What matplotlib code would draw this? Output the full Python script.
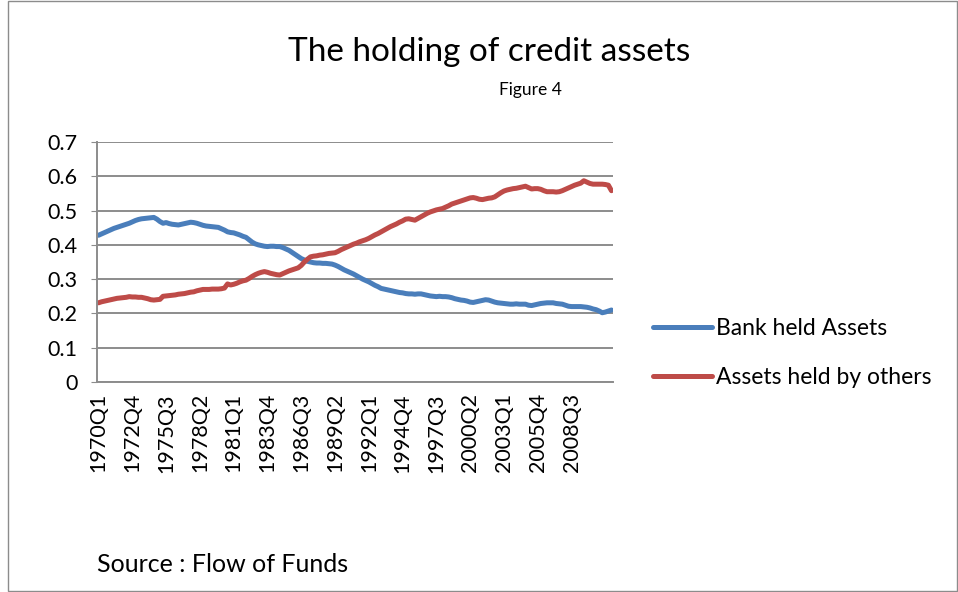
import numpy as np
import matplotlib.pyplot as plt
from matplotlib.patches import Rectangle

plt.rcParams['font.family'] = ['Lato', 'DejaVu Sans']

# quarterly shares, 1970Q1 .. 2011Q4 (one row per year)
bank_held = [
    0.428, 0.432, 0.436, 0.440,  # 1970
    0.444, 0.448, 0.451, 0.454,
    0.457, 0.460, 0.463, 0.467,
    0.471, 0.474, 0.476, 0.477,
    0.478, 0.479, 0.480, 0.475,
    0.468, 0.463, 0.465, 0.462,  # 1975
    0.460, 0.459, 0.458, 0.460,
    0.462, 0.464, 0.466, 0.465,
    0.463, 0.460, 0.457, 0.455,
    0.454, 0.453, 0.452, 0.451,
    0.447, 0.443, 0.438, 0.436,  # 1980
    0.435, 0.432, 0.429, 0.425,
    0.422, 0.415, 0.408, 0.403,
    0.400, 0.398, 0.396, 0.395,
    0.396, 0.396, 0.395, 0.395,
    0.392, 0.388, 0.384, 0.378,  # 1985
    0.372, 0.366, 0.360, 0.356,
    0.352, 0.350, 0.348, 0.347,
    0.347, 0.346, 0.346, 0.345,
    0.344, 0.341, 0.337, 0.332,
    0.327, 0.323, 0.319, 0.315,  # 1990
    0.310, 0.305, 0.300, 0.296,
    0.292, 0.287, 0.282, 0.278,
    0.273, 0.271, 0.269, 0.267,
    0.265, 0.263, 0.261, 0.260,
    0.258, 0.257, 0.257, 0.256,  # 1995
    0.257, 0.257, 0.255, 0.253,
    0.251, 0.250, 0.249, 0.250,
    0.249, 0.249, 0.248, 0.246,
    0.243, 0.241, 0.239, 0.238,
    0.236, 0.233, 0.232, 0.234,  # 2000
    0.236, 0.238, 0.240, 0.239,
    0.236, 0.233, 0.231, 0.230,
    0.229, 0.228, 0.227, 0.227,
    0.228, 0.227, 0.227, 0.227,
    0.224, 0.223, 0.225, 0.227,  # 2005
    0.229, 0.230, 0.231, 0.231,
    0.231, 0.229, 0.228, 0.227,
    0.224, 0.221, 0.220, 0.220,
    0.220, 0.220, 0.219, 0.218,
    0.216, 0.213, 0.211, 0.207,  # 2010
    0.202, 0.204, 0.207, 0.210,
]

held_by_others = [
    0.231, 0.234, 0.236, 0.238,  # 1970
    0.240, 0.242, 0.244, 0.245,
    0.246, 0.247, 0.249, 0.248,
    0.248, 0.247, 0.247, 0.245,
    0.243, 0.240, 0.239, 0.240,
    0.241, 0.250, 0.251, 0.252,  # 1975
    0.253, 0.254, 0.256, 0.257,
    0.258, 0.260, 0.262, 0.263,
    0.266, 0.268, 0.270, 0.270,
    0.270, 0.271, 0.271, 0.271,
    0.272, 0.274, 0.286, 0.283,  # 1980
    0.285, 0.288, 0.292, 0.295,
    0.297, 0.302, 0.308, 0.313,
    0.317, 0.320, 0.322, 0.320,
    0.317, 0.315, 0.313, 0.312,
    0.316, 0.320, 0.324, 0.327,  # 1985
    0.330, 0.333, 0.340, 0.350,
    0.358, 0.365, 0.367, 0.368,
    0.370, 0.371, 0.373, 0.375,
    0.376, 0.377, 0.381, 0.386,
    0.390, 0.394, 0.398, 0.402,  # 1990
    0.405, 0.409, 0.412, 0.415,
    0.419, 0.424, 0.429, 0.433,
    0.438, 0.443, 0.448, 0.453,
    0.457, 0.461, 0.466, 0.470,
    0.475, 0.476, 0.474, 0.472,  # 1995
    0.477, 0.482, 0.487, 0.492,
    0.496, 0.499, 0.502, 0.504,
    0.506, 0.510, 0.514, 0.519,
    0.522, 0.525, 0.528, 0.531,
    0.534, 0.537, 0.538, 0.536,  # 2000
    0.533, 0.532, 0.534, 0.536,
    0.537, 0.540, 0.546, 0.552,
    0.557, 0.560, 0.562, 0.564,
    0.565, 0.567, 0.569, 0.571,
    0.567, 0.563, 0.564, 0.564,  # 2005
    0.562, 0.558, 0.555, 0.555,
    0.555, 0.554, 0.555, 0.558,
    0.562, 0.566, 0.570, 0.574,
    0.577, 0.580, 0.587, 0.583,
    0.579, 0.577, 0.577, 0.577,  # 2010
    0.577, 0.576, 0.574, 0.558,
]

quarters = [f"{y}Q{q}" for y in range(1970, 2012) for q in range(1, 5)]
y_ticks = [0, 0.1, 0.2, 0.3, 0.4, 0.5, 0.6, 0.7]
y_labels = ["0", "0.1", "0.2", "0.3", "0.4", "0.5", "0.6", "0.7"]

fig = plt.figure(figsize=(9.58, 5.92), dpi=100)
fig.patches.append(Rectangle((8 / 958, 0.002), 1 - 9 / 958, 0.996, transform=fig.transFigure,
                             fill=False, edgecolor='#8c8c8c', linewidth=1.0))

ax = fig.add_axes([97 / 958, 1 - 382 / 592, 516 / 958, 240 / 592])
x = np.arange(len(quarters))
ax.plot(x, bank_held, color='#4a7ebb', lw=3.6, solid_capstyle='round', label='Bank held Assets')
ax.plot(x, held_by_others, color='#be4b48', lw=3.6, solid_capstyle='round', label='Assets held by others')

# labels every 11 quarters, last one shown is 2008Q3
lab_idx = x[:155:11]
ax.set_xlim(-0.5, len(quarters) - 0.5)
ax.set_ylim(0, 0.7)
ax.set_yticks(y_ticks)
ax.set_yticklabels(y_labels, fontsize=15.5)
ax.set_xticks(lab_idx)
ax.set_xticklabels([quarters[i] for i in lab_idx], rotation=90, fontsize=15.5)
ax.tick_params(axis='x', length=0, pad=8)
ax.tick_params(axis='y', length=4, color='#8c8c8c', pad=10)
ax.grid(axis='y', color='#8c8c8c', lw=1.4)
ax.set_axisbelow(True)
for s in ['top', 'right']:
    ax.spines[s].set_visible(False)
for s in ['left', 'bottom']:
    ax.spines[s].set_color('#8c8c8c')
    ax.spines[s].set_linewidth(1.4)

fig.text(489 / 958, 1 - 52 / 592, "The holding of credit assets", fontsize=24, ha='center', va='center')
fig.text(530 / 958, 1 - 90 / 592, "Figure 4", fontsize=12.5, ha='center', va='center')
fig.text(97 / 958, 1 - 565 / 592, "Source : Flow of Funds", fontsize=18, ha='left', va='center')

fig.legend(loc='center left', bbox_to_anchor=(632 / 958, 1 - 353 / 592), frameon=False,
           fontsize=16.5, handlelength=2.6, handletextpad=0.15, labelspacing=1.25)

fig.savefig("out.png", dpi=100)
